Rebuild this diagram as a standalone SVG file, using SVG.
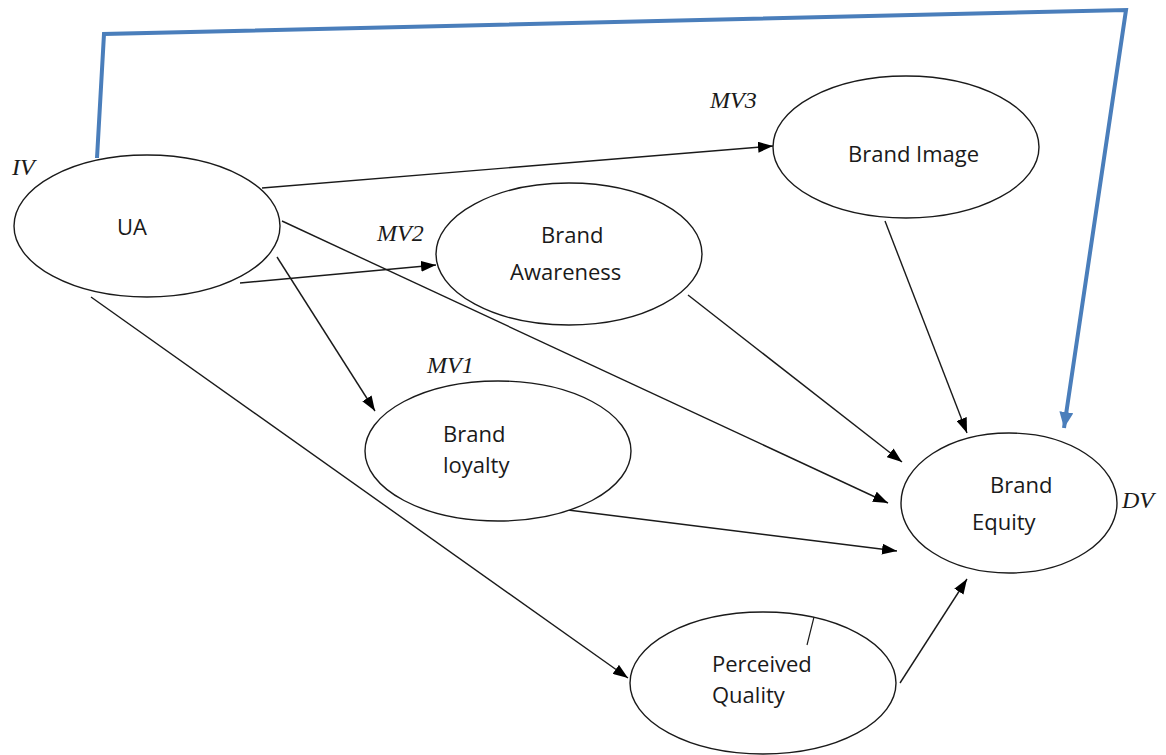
<svg xmlns="http://www.w3.org/2000/svg" width="1166" height="755" viewBox="0 0 1166 755">
<style>
.node ellipse{fill:#fff;stroke:#1a1a1a;stroke-width:1.4}
.lbl{font-family:"Open Sans","Liberation Sans",sans-serif;font-size:22px;fill:#1a1a1a}
.var{font-family:"Liberation Serif","Times New Roman",serif;font-style:italic;font-size:24px;fill:#1a1a1a}
.conn line{stroke:#1a1a1a;stroke-width:1.4;marker-end:url(#ah)}
.blue{fill:none;stroke:#4a7ebb;stroke-width:4;stroke-linejoin:miter}
</style>
<defs>
<marker id="ah" viewBox="0 0 15 11" refX="15" refY="5.5" markerWidth="15" markerHeight="11" markerUnits="userSpaceOnUse" orient="auto">
<path d="M0,0 L15,5.5 L0,11 z" fill="#000"/>
</marker>
<marker id="bh" viewBox="0 0 16 14" refX="16" refY="7" markerWidth="16" markerHeight="14" markerUnits="userSpaceOnUse" orient="auto">
<path d="M0,0 L16,7 L0,14 z" fill="#4a7ebb"/>
</marker>
</defs>
<rect width="1166" height="755" fill="#fff"/>

<g id="connectors" class="conn">
<line x1="262" y1="188" x2="773" y2="146"/>
<line x1="240" y1="283" x2="436" y2="265"/>
<line x1="282" y1="221" x2="888" y2="503"/>
<line x1="277" y1="257" x2="375" y2="411"/>
<line x1="91" y1="297" x2="628" y2="678"/>
<line x1="688" y1="295" x2="902" y2="462"/>
<line x1="568" y1="510" x2="897" y2="551"/>
<line x1="885" y1="221" x2="967" y2="433"/>
<line x1="900" y1="683" x2="967" y2="579"/>
<path class="blue" d="M97,158 L104,34 L1126,10 L1064,428" marker-end="url(#bh)"/>
</g>

<g id="UA" class="node">
<ellipse cx="147" cy="226" rx="133" ry="71"/>
<text class="lbl" x="117" y="235">UA</text>
<text class="var" x="12" y="175">IV</text>
</g>

<g id="BrandImage" class="node">
<ellipse cx="906" cy="147" rx="133" ry="71"/>
<text class="lbl" x="848" y="162">Brand Image</text>
<text class="var" x="710" y="108">MV3</text>
</g>

<g id="BrandAwareness" class="node">
<ellipse cx="569" cy="254" rx="133" ry="71"/>
<text class="lbl" x="541" y="243">Brand</text>
<text class="lbl" x="510" y="280">Awareness</text>
<text class="var" x="377" y="241">MV2</text>
</g>

<g id="BrandLoyalty" class="node">
<ellipse cx="498" cy="451" rx="133" ry="70"/>
<text class="lbl" x="443" y="442">Brand</text>
<text class="lbl" x="443" y="473">loyalty</text>
<text class="var" x="427" y="373">MV1</text>
</g>

<g id="BrandEquity" class="node">
<ellipse cx="1009" cy="503" rx="108" ry="70"/>
<text class="lbl" x="990" y="493">Brand</text>
<text class="lbl" x="972" y="530">Equity</text>
<text class="var" x="1122" y="508">DV</text>
</g>

<g id="PerceivedQuality" class="node">
<ellipse cx="763" cy="683" rx="133" ry="71"/>
<line x1="814" y1="617" x2="807" y2="645" stroke="#1a1a1a" stroke-width="1.2"/>
<text class="lbl" x="712" y="672">Perceived</text>
<text class="lbl" x="712" y="703">Quality</text>
</g>
</svg>
